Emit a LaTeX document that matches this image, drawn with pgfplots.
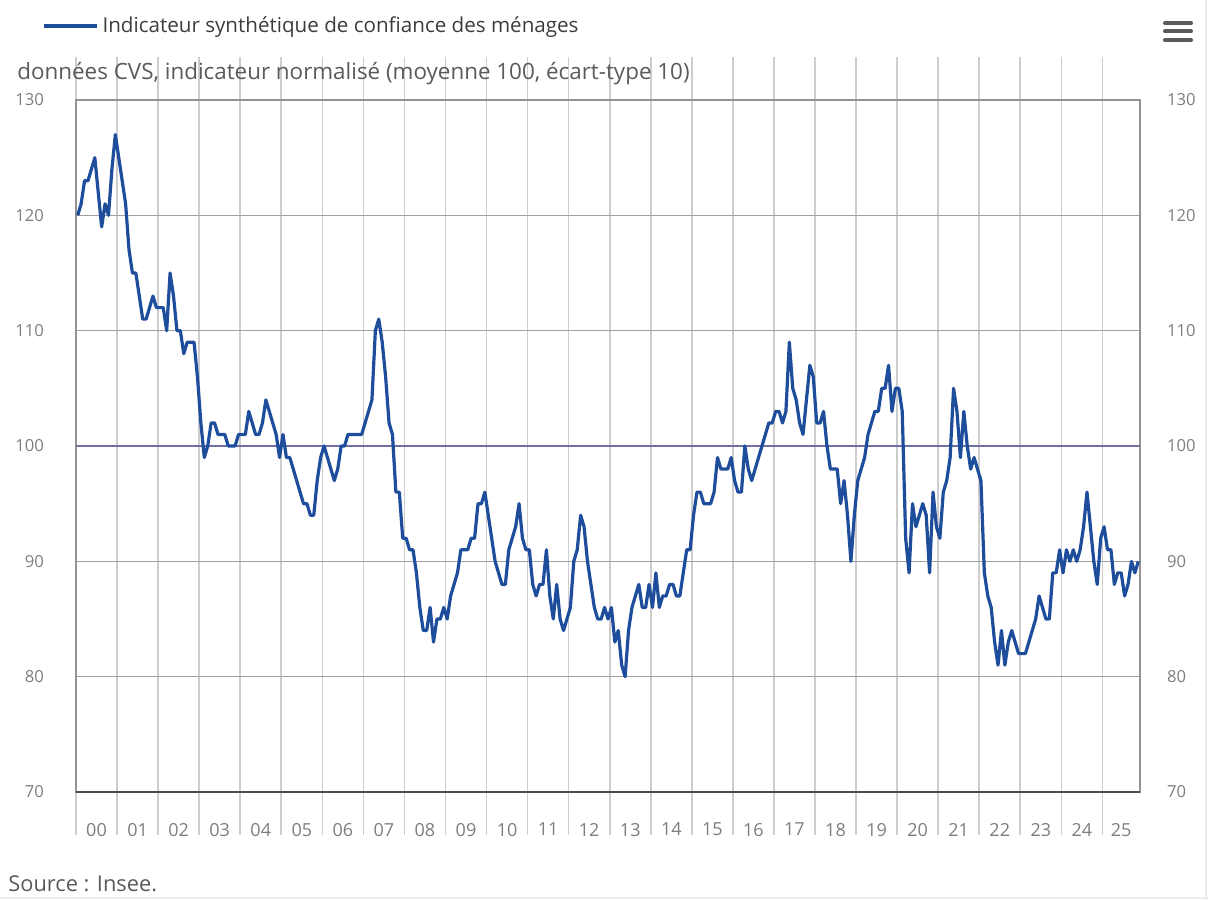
\documentclass[border=0pt]{standalone}
\usepackage{pgfplots}
\usepackage{pgfplotstable}
\pgfplotsset{compat=1.18}
\usepackage{fontspec}
\setmainfont{Open Sans}
\definecolor{serie}{RGB}{30,77,155}
\definecolor{cent}{RGB}{112,112,165}
\definecolor{hgrid}{RGB}{160,160,160}
\definecolor{vgrid}{RGB}{205,205,205}
\definecolor{ticklab}{RGB}{125,125,130}
\definecolor{txtdark}{RGB}{60,60,60}
\definecolor{txtmid}{RGB}{90,90,90}

\pgfplotstableread[row sep=\\]{
m v\\
0.5 120\\ 1.5 121\\ 2.5 123\\ 3.5 123\\ 4.5 124\\ 5.5 125\\ 6.5 122\\ 7.5 119\\ 8.5 121\\ 9.5 120\\ 10.5 124\\ 11.5 127\\
12.5 125\\ 13.5 123\\ 14.5 121\\ 15.5 117\\ 16.5 115\\ 17.5 115\\ 18.5 113\\ 19.5 111\\ 20.5 111\\ 21.5 112\\ 22.5 113\\ 23.5 112\\
24.5 112\\ 25.5 112\\ 26.5 110\\ 27.5 115\\ 28.5 113\\ 29.5 110\\ 30.5 110\\ 31.5 108\\ 32.5 109\\ 33.5 109\\ 34.5 109\\ 35.5 106\\
36.5 102\\ 37.5 99\\ 38.5 100\\ 39.5 102\\ 40.5 102\\ 41.5 101\\ 42.5 101\\ 43.5 101\\ 44.5 100\\ 45.5 100\\ 46.5 100\\ 47.5 101\\
48.5 101\\ 49.5 101\\ 50.5 103\\ 51.5 102\\ 52.5 101\\ 53.5 101\\ 54.5 102\\ 55.5 104\\ 56.5 103\\ 57.5 102\\ 58.5 101\\ 59.5 99\\
60.5 101\\ 61.5 99\\ 62.5 99\\ 63.5 98\\ 64.5 97\\ 65.5 96\\ 66.5 95\\ 67.5 95\\ 68.5 94\\ 69.5 94\\ 70.5 97\\ 71.5 99\\
72.5 100\\ 73.5 99\\ 74.5 98\\ 75.5 97\\ 76.5 98\\ 77.5 100\\ 78.5 100\\ 79.5 101\\ 80.5 101\\ 81.5 101\\ 82.5 101\\ 83.5 101\\
84.5 102\\ 85.5 103\\ 86.5 104\\ 87.5 110\\ 88.5 111\\ 89.5 109\\ 90.5 106\\ 91.5 102\\ 92.5 101\\ 93.5 96\\ 94.5 96\\ 95.5 92\\
96.5 92\\ 97.5 91\\ 98.5 91\\ 99.5 89\\ 100.5 86\\ 101.5 84\\ 102.5 84\\ 103.5 86\\ 104.5 83\\ 105.5 85\\ 106.5 85\\ 107.5 86\\
108.5 85\\ 109.5 87\\ 110.5 88\\ 111.5 89\\ 112.5 91\\ 113.5 91\\ 114.5 91\\ 115.5 92\\ 116.5 92\\ 117.5 95\\ 118.5 95\\ 119.5 96\\
120.5 94\\ 121.5 92\\ 122.5 90\\ 123.5 89\\ 124.5 88\\ 125.5 88\\ 126.5 91\\ 127.5 92\\ 128.5 93\\ 129.5 95\\ 130.5 92\\ 131.5 91\\
132.5 91\\ 133.5 88\\ 134.5 87\\ 135.5 88\\ 136.5 88\\ 137.5 91\\ 138.5 87\\ 139.5 85\\ 140.5 88\\ 141.5 85\\ 142.5 84\\ 143.5 85\\
144.5 86\\ 145.5 90\\ 146.5 91\\ 147.5 94\\ 148.5 93\\ 149.5 90\\ 150.5 88\\ 151.5 86\\ 152.5 85\\ 153.5 85\\ 154.5 86\\ 155.5 85\\
156.5 86\\ 157.5 83\\ 158.5 84\\ 159.5 81\\ 160.5 80\\ 161.5 84\\ 162.5 86\\ 163.5 87\\ 164.5 88\\ 165.5 86\\ 166.5 86\\ 167.5 88\\
168.5 86\\ 169.5 89\\ 170.5 86\\ 171.5 87\\ 172.5 87\\ 173.5 88\\ 174.5 88\\ 175.5 87\\ 176.5 87\\ 177.5 89\\ 178.5 91\\ 179.5 91\\
180.5 94\\ 181.5 96\\ 182.5 96\\ 183.5 95\\ 184.5 95\\ 185.5 95\\ 186.5 96\\ 187.5 99\\ 188.5 98\\ 189.5 98\\ 190.5 98\\ 191.5 99\\
192.5 97\\ 193.5 96\\ 194.5 96\\ 195.5 100\\ 196.5 98\\ 197.5 97\\ 198.5 98\\ 199.5 99\\ 200.5 100\\ 201.5 101\\ 202.5 102\\ 203.5 102\\
204.5 103\\ 205.5 103\\ 206.5 102\\ 207.5 103\\ 208.5 109\\ 209.5 105\\ 210.5 104\\ 211.5 102\\ 212.5 101\\ 213.5 104\\ 214.5 107\\ 215.5 106\\
216.5 102\\ 217.5 102\\ 218.5 103\\ 219.5 100\\ 220.5 98\\ 221.5 98\\ 222.5 98\\ 223.5 95\\ 224.5 97\\ 225.5 94\\ 226.5 90\\ 227.5 94\\
228.5 97\\ 229.5 98\\ 230.5 99\\ 231.5 101\\ 232.5 102\\ 233.5 103\\ 234.5 103\\ 235.5 105\\ 236.5 105\\ 237.5 107\\ 238.5 103\\ 239.5 105\\
240.5 105\\ 241.5 103\\ 242.5 92\\ 243.5 89\\ 244.5 95\\ 245.5 93\\ 246.5 94\\ 247.5 95\\ 248.5 94\\ 249.5 89\\ 250.5 96\\ 251.5 93\\
252.5 92\\ 253.5 96\\ 254.5 97\\ 255.5 99\\ 256.5 105\\ 257.5 103\\ 258.5 99\\ 259.5 103\\ 260.5 100\\ 261.5 98\\ 262.5 99\\ 263.5 98\\
264.5 97\\ 265.5 89\\ 266.5 87\\ 267.5 86\\ 268.5 83\\ 269.5 81\\ 270.5 84\\ 271.5 81\\ 272.5 83\\ 273.5 84\\ 274.5 83\\ 275.5 82\\
276.5 82\\ 277.5 82\\ 278.5 83\\ 279.5 84\\ 280.5 85\\ 281.5 87\\ 282.5 86\\ 283.5 85\\ 284.5 85\\ 285.5 89\\ 286.5 89\\ 287.5 91\\
288.5 89\\ 289.5 91\\ 290.5 90\\ 291.5 91\\ 292.5 90\\ 293.5 91\\ 294.5 93\\ 295.5 96\\ 296.5 93\\ 297.5 90\\ 298.5 88\\ 299.5 92\\
300.5 93\\ 301.5 91\\ 302.5 91\\ 303.5 88\\ 304.5 89\\ 305.5 89\\ 306.5 87\\ 307.5 88\\ 308.5 90\\ 309.5 89\\ 310.5 90\\
}\confiance

\begin{document}
\begin{tikzpicture}[x=1pt,y=1pt]
\useasboundingbox (0,0) rectangle (604,450);
\draw[color=gray!15, line width=1pt] (0,1) -- (604,1);
\draw[color=gray!15, line width=1pt] (603,0) -- (603,450);
\begin{axis}[
  at={(38pt,54pt)}, anchor=south west,
  width=532pt, height=346pt, scale only axis,
  xmin=0, xmax=311, ymin=70, ymax=130,
  ytick={70,80,90,100,110,120,130},
  xtick={0,12,24,36,48,60,72,84,96,108,120,132,144,156,168,180,192,204,216,228,240,252,264,276,288,300},
  xticklabels={},
  extra x ticks={6,18,30,42,54,66,78,90,102,114,126,138,150,162,174,186,198,210,222,234,246,258,270,282,294,305.5},
  extra x tick labels={00,01,02,03,04,05,06,07,08,09,10,11,12,13,14,15,16,17,18,19,20,21,22,23,24,25},
  extra x tick style={major tick length=0pt, grid=none, xticklabel style={yshift=-12pt}},
  tick align=outside,
  major tick length=21.5pt,
  xtick style={draw=vgrid, line width=0.8pt},
  ytick style={draw=none},
  xmajorgrids, ymajorgrids,
  major x grid style={draw=vgrid, line width=0.8pt},
  major y grid style={draw=hgrid, line width=0.7pt},
  axis line style={draw=gray!85, line width=0.8pt},
  /pgf/number format/assume math mode=true,
  yticklabel style={font=\fontsize{8.3}{10}\selectfont, text=ticklab, xshift=9pt},
  xticklabel style={font=\fontsize{9}{11}\selectfont, text=ticklab},
  yticklabel pos=left,
  legend style={at={(-0.032,1.107)}, anchor=west, draw=none, fill=none, inner sep=0pt,
    font=\fontsize{10.3}{12}\selectfont, text=txtdark, legend cell align=left},
  legend image code/.code={\draw[#1] (0pt,0pt) -- (26.5pt,0pt);},
]
\addplot[color=cent, line width=0.8pt, forget plot] coordinates {(0,100) (311,100)};
\addplot[color=serie, line width=1.6pt, line join=round] table[x=m, y=v] {\confiance};
\addlegendentry{Indicateur synthétique de confiance des ménages}
\draw[color=gray!60!black, line width=1pt] (rel axis cs:0,0) -- (rel axis cs:1,0);
\end{axis}
\begin{axis}[
  at={(38pt,54pt)}, anchor=south west,
  width=532pt, height=346pt, scale only axis,
  xmin=0, xmax=311, ymin=70, ymax=130,
  ytick={70,80,90,100,110,120,130},
  hide x axis, axis y line*=right, y axis line style={draw=none},
  ytick style={draw=none}, major tick length=0pt,
  /pgf/number format/assume math mode=true,
  yticklabel style={font=\fontsize{8.3}{10}\selectfont, text=ticklab, xshift=10pt},
]
\end{axis}
\node[anchor=west, font=\fontsize{11.2}{13}\selectfont, text=txtmid, inner sep=0pt] at (8.5,413) {données CVS, indicateur normalisé (moyenne 100, écart-type 10)};
\node[anchor=west, font=\fontsize{10.9}{13}\selectfont, text=txtmid, inner sep=0pt] at (4,8) {Source : Insee.};
\foreach \yy in {438.5,434.3,430} {\draw[color=txtmid, line width=2pt, line cap=round] (582.5,\yy) -- (595.5,\yy);}
\end{tikzpicture}
\end{document}
